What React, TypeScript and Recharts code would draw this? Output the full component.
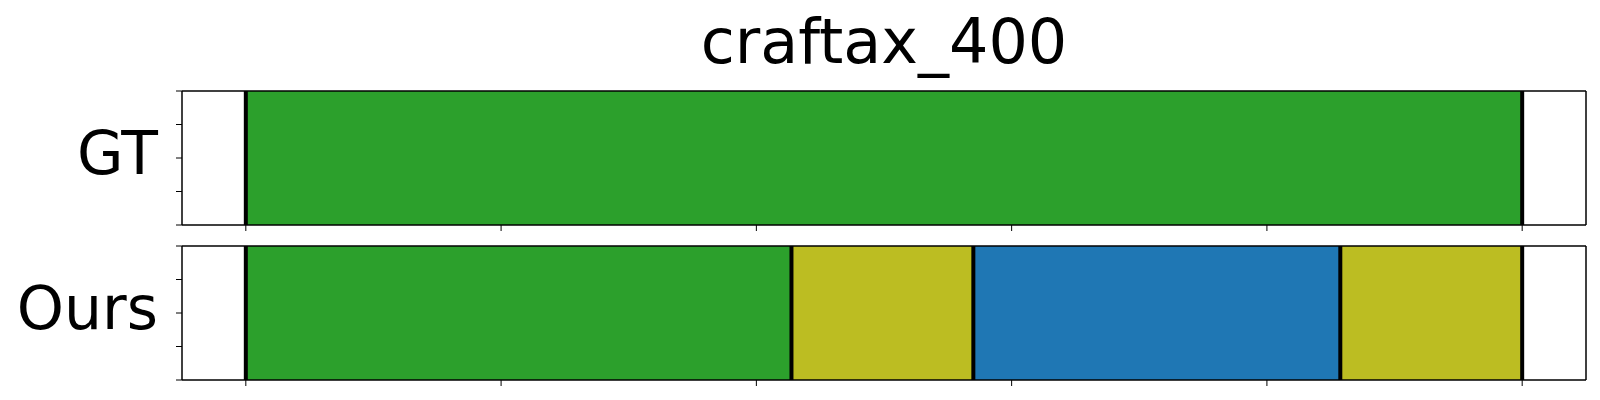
import { ComposedChart, XAxis, YAxis, ReferenceLine, ReferenceArea } from "recharts";

const title = "craftax_400";
const xTicks = [0, 80, 160, 240, 320, 400];
const fracTicks = [0, 0.25, 0.5, 0.75, 1];

// segment lengths (frames) and colours for each row
const gtLengths = [400];
const gtColors = ["#2ca02c"];
const oursLengths = [171, 57, 115, 57];
const oursColors = ["#2ca02c", "#bcbd22", "#1f77b4", "#bcbd22"];

const FONT = "DejaVu Sans, sans-serif";

interface RowProps {
  label: string;
  lengths: number[];
  colors: string[];
}

const SegmentRow = ({ label, lengths, colors }: RowProps) => {
  const bounds = [0];
  lengths.forEach((v) => bounds.push(bounds[bounds.length - 1] + v));
  const segs = lengths.map((v, i) => ({ start: bounds[i], end: bounds[i + 1], color: colors[i] }));

  return (
    <ComposedChart
      width={1600}
      height={155}
      data={segs}
      margin={{ top: 0, right: 0, bottom: 0, left: 0 }}
    >
      <XAxis
        xAxisId="bottom"
        type="number"
        dataKey="start"
        domain={[-20, 420]}
        ticks={xTicks}
        interval={0}
        allowDataOverflow
        height={10}
        tickSize={6}
        tickFormatter={() => ""}
        tickLine={{ stroke: "#000", strokeWidth: 1 }}
        axisLine={{ stroke: "#000", strokeWidth: 1.5 }}
      />
      <XAxis
        xAxisId="top"
        orientation="top"
        type="number"
        domain={[-20, 420]}
        allowDataOverflow
        height={11}
        tick={false}
        tickLine={false}
        axisLine={{ stroke: "#000", strokeWidth: 1.5 }}
      />
      <YAxis
        yAxisId="frac"
        type="number"
        domain={[0, 1]}
        ticks={fracTicks}
        interval={0}
        allowDataOverflow
        width={182}
        tickSize={6}
        tickFormatter={() => ""}
        tickLine={{ stroke: "#000", strokeWidth: 1 }}
        axisLine={{ stroke: "#000", strokeWidth: 1.5 }}
        label={{
          content: (props: any) => {
            const vb = props.viewBox || {};
            return (
              <text
                x={vb.x + vb.width - 24}
                y={vb.y + vb.height / 2 + 16}
                textAnchor="end"
                fontFamily={FONT}
                fontSize={60}
                fill="#000"
              >
                {label}
              </text>
            );
          },
        }}
      />
      <YAxis
        yAxisId="right"
        orientation="right"
        type="number"
        domain={[0, 1]}
        width={14}
        tick={false}
        tickLine={false}
        axisLine={{ stroke: "#000", strokeWidth: 1.5 }}
      />
      {segs.map((s, i) => (
        <ReferenceArea
          key={`s${i}`}
          x1={s.start}
          x2={s.end}
          y1={0}
          y2={1}
          xAxisId="bottom"
          yAxisId="frac"
          fill={s.color}
          fillOpacity={1}
          stroke="none"
          ifOverflow="visible"
        />
      ))}
      {bounds.map((b, i) => (
        <ReferenceLine
          key={`b${i}`}
          x={b}
          xAxisId="bottom"
          yAxisId="frac"
          stroke="#000"
          strokeWidth={4}
        />
      ))}
    </ComposedChart>
  );
};

const App = () => {
  return (
    <div
      style={{
        position: "absolute",
        left: 0,
        top: 0,
        width: 1600,
        height: 400,
        background: "#fff",
        fontFamily: FONT,
      }}
    >
      <svg width={1600} height={80} style={{ display: "block" }}>
        <text x={884} y={63} textAnchor="middle" fontFamily={FONT} fontSize={62} fill="#000">
          {title}
        </text>
      </svg>
      <SegmentRow label="GT" lengths={gtLengths} colors={gtColors} />
      <SegmentRow label="Ours" lengths={oursLengths} colors={oursColors} />
    </div>
  );
};

export default App;
